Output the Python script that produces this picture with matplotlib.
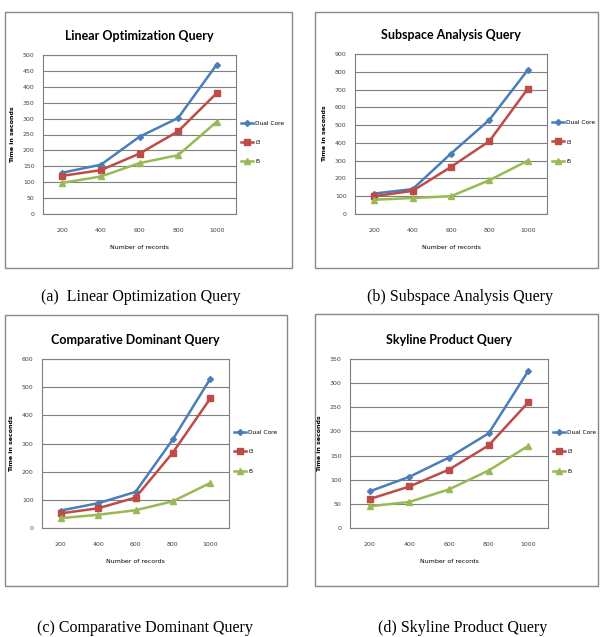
import matplotlib
matplotlib.use('Agg')
import matplotlib.pyplot as plt
from matplotlib.patches import Rectangle

W, H = 600, 637

records = [200, 400, 600, 800, 1000]
series_names = ['Dual Core', 'i3', 'i5']

linear_dual = [130, 155, 243, 302, 470]
linear_i3 = [120, 138, 190, 260, 380]
linear_i5 = [98, 118, 160, 185, 290]

subspace_dual = [115, 140, 340, 530, 810]
subspace_i3 = [100, 130, 265, 410, 705]
subspace_i5 = [80, 90, 100, 190, 300]

comparative_dual = [62, 88, 128, 315, 530]
comparative_i3 = [52, 70, 108, 268, 460]
comparative_i5 = [35, 47, 63, 95, 160]

skyline_dual = [76, 106, 146, 196, 325]
skyline_i3 = [60, 86, 121, 171, 260]
skyline_i5 = [45, 54, 80, 119, 170]

colors = ['#4A7EBB', '#BE4B48', '#98B954']
markers = ['D', 's', '^']
msizes = [3.0, 4.0, 4.0]

fig = plt.figure(figsize=(W / 100, H / 100), dpi=100)


def px_axes(x0, y0, x1, y1):
    return fig.add_axes([x0 / W, 1 - y1 / H, (x1 - x0) / W, (y1 - y0) / H])


def panel(box, plot, title, ymax, ystep, data, caption, cap_xy):
    bx0, by0, bx1, by1 = box
    fig.patches.append(Rectangle((bx0 / W, 1 - by1 / H), (bx1 - bx0) / W,
                                 (by1 - by0) / H, transform=fig.transFigure,
                                 fill=False, edgecolor='#888888', linewidth=1.0))
    ax = px_axes(*plot)
    xs = range(len(records))
    for vals, name, c, m, ms in zip(data, series_names, colors, markers, msizes):
        ax.plot(xs, vals, color=c, marker=m, markersize=ms, linewidth=1.8,
                label=name)
    ax.set_xlim(-0.5, len(records) - 0.5)
    ax.set_ylim(0, ymax)
    ax.set_yticks(range(0, ymax + 1, ystep))
    ax.set_xticks(list(xs))
    ax.set_xticklabels([str(r) for r in records])
    ax.tick_params(labelsize=4.5, length=0, colors='#444444', pad=6)
    ax.tick_params(axis='x', pad=10)
    ax.grid(axis='y', color='#7f7f7f', linewidth=0.8)
    ax.set_axisbelow(True)
    for s in ax.spines.values():
        s.set_color('#7f7f7f')
        s.set_linewidth(0.8)
    ax.set_title(title, fontsize=9, fontweight='bold', family='Lato', pad=11)
    ax.set_xlabel('Number of records', fontsize=4.5, labelpad=9)
    ax.set_ylabel('Time in seconds', fontsize=4.5, fontweight='bold', labelpad=6)
    ax.legend(loc='center left', bbox_to_anchor=(1.0, 0.45), frameon=False,
              fontsize=4.2, handlelength=2.0, handletextpad=0.4,
              labelspacing=2.4)
    fig.text(cap_xy[0] / W, 1 - cap_xy[1] / H, caption, ha='center',
             va='center', fontsize=11.5, family='Liberation Serif')


panel((5, 12, 292, 268), (43, 55, 236, 214), 'Linear Optimization Query',
      500, 50, [linear_dual, linear_i3, linear_i5],
      '(a)  Linear Optimization Query', (141, 297))
panel((315, 12, 598, 268), (355, 54, 547, 214), 'Subspace Analysis Query',
      900, 100, [subspace_dual, subspace_i3, subspace_i5],
      '(b) Subspace Analysis Query', (460, 297))
panel((5, 315, 287, 586), (42, 359, 229, 528), 'Comparative Dominant Query',
      600, 100, [comparative_dual, comparative_i3, comparative_i5],
      '(c) Comparative Dominant Query', (145, 628))
panel((315, 314, 598, 586), (350, 359, 548, 528), 'Skyline Product Query',
      350, 50, [skyline_dual, skyline_i3, skyline_i5],
      '(d) Skyline Product Query', (463, 628))

fig.savefig('out.png', dpi=100)
